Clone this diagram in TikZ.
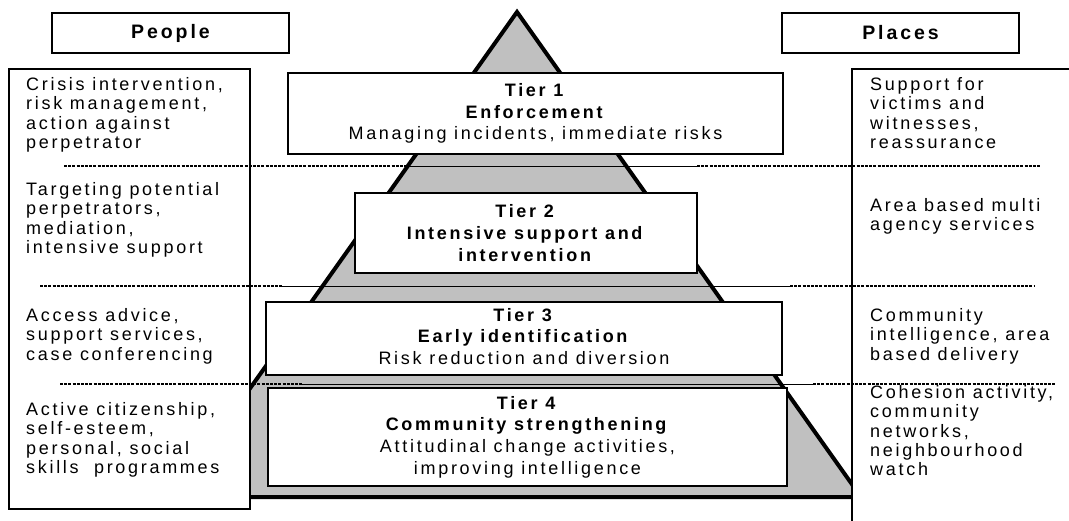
\documentclass[tikz,border=0pt]{standalone}
\usepackage{fontspec}
\setmainfont{Liberation Sans}[LetterSpace=15]
\definecolor{pyr}{HTML}{C0C0C0}
\newcommand{\fl}{\rule{0pt}{14pt}}
\tikzset{
  box/.style={draw, line width=1.3pt, fill=white, inner sep=0pt},
  side/.style={font=\fontsize{18}{19.4}\selectfont, align=left, anchor=north west, inner sep=0pt},
  tiertext/.style={font=\fontsize{18}{21.6}\selectfont, align=center, inner sep=0pt},
  head/.style={font=\bfseries\fontsize{19.5}{22}\selectfont, inner sep=0pt},
  divider/.style={line width=1pt},
  dashdiv/.style={line width=1.1pt, dash pattern=on 3pt off 1.2pt},
}
\begin{document}
\begin{tikzpicture}[x=1pt,y=-1pt]
\useasboundingbox (0,0) rectangle (1069,520);
\clip (0,0) rectangle (1069,520);
% pyramid
\draw[line width=4pt, fill=pyr, line join=miter] (517,12) -- (173,497) -- (861,497) -- cycle;
% side boxes
\node[box, minimum width=241pt, minimum height=440pt] (left) at (129.5,289) {};
\fill[white] (852,69) rectangle (1080,530);
\draw[line width=1.3pt] (852,530) |- (1080,69);
\coordinate (right) at (852,69);
% headers
\node[box, minimum width=237pt, minimum height=40pt] (people) at (170.5,33) {};
\node[head] (peopleT) at (people.center) {People};
\node[box, minimum width=237pt, minimum height=40pt] (places) at (900.5,33) {};
\node[head] (placesT) at (places.center) {Places};
% solid dividers
\coordinate (s1a) at (408,166); \coordinate (s1b) at (697,166);
\coordinate (s2a) at (282,286); \coordinate (s2b) at (790,286);
\coordinate (s3a) at (302,384); \coordinate (s3b) at (813,384);
\draw[divider] (s1a) -- (s1b);
\draw[divider] (s2a) -- (s2b);
\draw[divider] (s3a) -- (s3b);
% dashed dividers
\coordinate (d1a) at (64,166); \coordinate (d1b) at (1040,166);
\coordinate (d2a) at (40,286); \coordinate (d2b) at (1035,286);
\coordinate (d3a) at (60,384); \coordinate (d3b) at (1056,384);
\draw[dashdiv] (d1a) -- (s1a); \draw[dashdiv] (s1b) -- (d1b);
\draw[dashdiv] (d2a) -- (s2a); \draw[dashdiv] (s2b) -- (d2b);
\draw[dashdiv] (d3a) -- (s3a); \draw[dashdiv] (s3b) -- (d3b);
% tier boxes
\node[box, minimum width=495pt, minimum height=81pt] (t1) at (535.5,113.5) {};
\node[box, minimum width=342pt, minimum height=80pt] (t2) at (526,233) {};
\node[box, minimum width=516pt, minimum height=73pt] (t3) at (524,338.5) {};
\node[box, minimum width=519pt, minimum height=98pt] (t4) at (527.5,437) {};
\node[tiertext] (t1T) at (t1.center) {\textbf{Tier 1}\\ \textbf{Enforcement}\\ Managing incidents, immediate risks};
\node[tiertext] (t2T) at (t2.center) {\textbf{Tier 2}\\ \textbf{Intensive support and}\\ \textbf{intervention}};
\node[tiertext] (t3T) at ([yshift=2pt]t3.center) {\textbf{Tier 3}\\ \textbf{Early identification}\\ Risk reduction and diversion};
\node[tiertext] (t4T) at (t4.center) {\textbf{Tier 4}\\ \textbf{Community strengthening}\\ Attitudinal change activities,\\ improving intelligence};
% people texts
\node[side] (p1) at (26,76) {\fl Crisis intervention,\\ risk management,\\ action against\\ perpetrator};
\node[side] (p2) at (26,181) {\fl Targeting potential\\ perpetrators,\\ mediation,\\ intensive support};
\node[side] (p3) at (26,307) {\fl Access advice,\\ support services,\\ case conferencing};
\node[side] (p4) at (26,401) {\fl Active citizenship,\\ self-esteem,\\ personal, social\\ skills\ \ programmes};
% places texts
\node[side] (q1) at (870,76) {\fl Support for\\ victims and\\ witnesses,\\ reassurance};
\node[side] (q2) at (870,197) {\fl Area based multi\\ agency services};
\node[side] (q3) at (870,307) {\fl Community\\ intelligence, area\\ based delivery};
\node[side] (q4) at (870,384) {\fl Cohesion activity,\\ community\\ networks,\\ neighbourhood\\ watch};
\end{tikzpicture}
\end{document}
